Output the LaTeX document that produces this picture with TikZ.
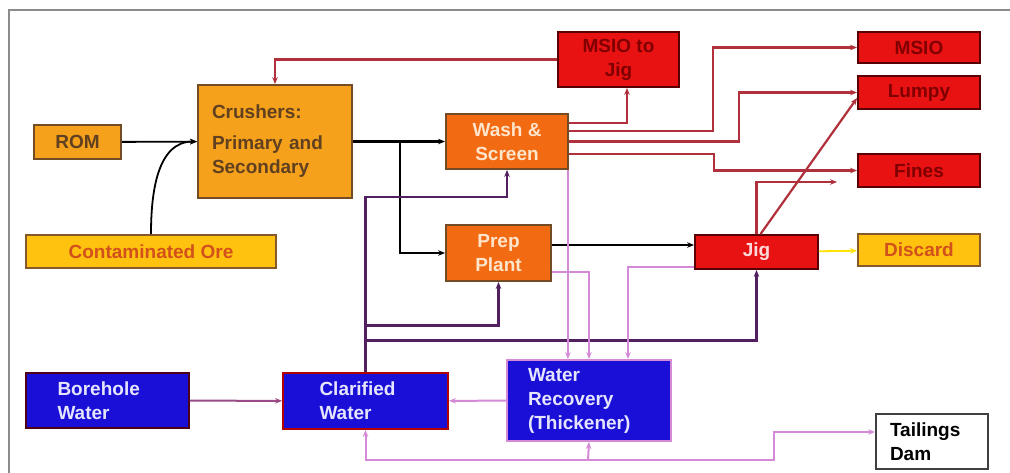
\documentclass[tikz,border=0pt]{standalone}
\usepackage{fontspec}
\setmainfont{Liberation Sans}
\usepackage{xcolor}
\usepackage{tikz}
\usetikzlibrary{arrows.meta}

\definecolor{orelight}{HTML}{F5A11C}
\definecolor{oredark}{HTML}{F26A12}
\definecolor{oreyellow}{HTML}{FFC20E}
\definecolor{oretext}{HTML}{D2501C}
\definecolor{prodred}{HTML}{E81212}
\definecolor{waterblue}{HTML}{1A0FD6}
\definecolor{redline}{HTML}{B0303C}
\definecolor{purpleline}{HTML}{52205E}
\definecolor{pinkline}{HTML}{D58AD8}
\definecolor{mauveline}{HTML}{9A4A86}
\definecolor{framegrey}{HTML}{8C8C8C}

\begin{document}
\begin{tikzpicture}[x=1pt, y=-1pt, >={Stealth[length=7pt,width=5.5pt]},
  box/.style={draw, line width=1.8pt, inner sep=0pt, font=\bfseries\fontsize{19}{24}\selectfont},
  orangebox/.style={box, fill=orelight, draw=brown!60!black, text=brown!50!black},
  washbox/.style={box, fill=oredark, draw=brown!60!black, text=orange!20!white, align=center},
  yellowbox/.style={box, fill=oreyellow, draw=brown!70!black, text=oretext},
  redbox/.style={box, fill=prodred, draw=red!35!black, text=red!50!black, align=center},
  bluebox/.style={box, fill=waterblue, draw=purple!40!black, text=white!90!blue, align=left},
  flow/.style={->, line width=1.8pt, black},
  redflow/.style={->, line width=2.2pt, redline},
  purpleflow/.style={->, line width=2.8pt, purpleline},
  pinkflow/.style={->, line width=2pt, pinkline}]

\useasboundingbox (0,0) rectangle (1010,473);
\draw[framegrey, line width=1.2pt] (9,480) -- (9,10) -- (1015,10);

% ore side
\node[orangebox, minimum width=87pt, minimum height=34pt] (rom) at (77.5,142) {ROM};
\node[orangebox, minimum width=154pt, minimum height=113pt, align=left, text width=126pt] (crushers) at (275,141.5)
    {Crushers:\\[7pt]Primary and\\Secondary};
\node[yellowbox, minimum width=250pt, minimum height=33pt] (ore) at (151,251.5) {Contaminated Ore};
\node[washbox, minimum width=122pt, minimum height=55pt] (wash) at (507,141.5) {Wash \&\\Screen};
\node[washbox, minimum width=105pt, minimum height=56pt] (prep) at (498.5,253) {Prep\\Plant};

% products
\node[redbox, minimum width=121pt, minimum height=55pt] (msiojig) at (618.5,59.5) {MSIO to\\Jig};
\node[redbox, minimum width=122pt, minimum height=31pt] (msio) at (919,47.5) {MSIO};
\node[redbox, minimum width=122pt, minimum height=33pt] (lumpy) at (919,92.5) {Lumpy};
\node[redbox, minimum width=122pt, minimum height=33pt] (fines) at (919,170.5) {Fines};
\node[redbox, minimum width=123pt, minimum height=34pt, text=red!15!white] (jig) at (756.5,252) {Jig};
\node[yellowbox, minimum width=122pt, minimum height=32pt] (discard) at (919,250) {Discard};

% water side
\node[bluebox, minimum width=163pt, minimum height=55pt, text width=100pt] (bore) at (107.5,400.5) {Borehole\\Water};
\node[bluebox, minimum width=165pt, minimum height=56pt, text width=92pt, draw=red!70!black] (clar) at (365.5,401) {Clarified\\Water};
\node[bluebox, minimum width=164pt, minimum height=81pt, text width=122pt, draw=pinkline] (wr) at (589,400.5)
    {Water\\Recovery\\(Thickener)};
\node[box, fill=white, draw=black!75, minimum width=112pt, minimum height=55pt, align=left, text width=84pt] (tail) at (932,441.5)
    {Tailings\\Dam};

\coordinate (split) at (400,141.5);
\coordinate (ret) at (588,460);

% ore flow
\draw[flow] (rom) -- (crushers);
\draw[flow] (ore.north) to[out=90, in=180] (crushers.west);
\draw[flow, line width=2.6pt] (crushers.east) -- (wash);
\draw[flow, line width=2.6pt] (split) |- (prep);
\draw[flow, line width=2.6pt] ([yshift=8pt]prep.east) -- ([yshift=8pt]prep.east -| jig.west);
\draw[->, line width=1.8pt, yellow!85!orange] (jig) -- (discard);

% product flow
\draw[redflow] (msiojig.west) -| (crushers.north);
\draw[redflow] ([yshift=18.5pt]wash.east) -| ([xshift=8.5pt]msiojig.south);
\draw[redflow] ([yshift=10.5pt]wash.east) -- ++(144,0) |- (msio);
\draw[redflow] (wash.east) -- ++(170,0) |- (lumpy);
\draw[redflow] ([yshift=-12.5pt]wash.east) -- ++(145,0) |- (fines);
\draw[redflow] (jig.north) |- ([xshift=-20pt,yshift=-11.5pt]fines.west);
\draw[redflow] ([xshift=4pt]jig.north) -- ([yshift=-5.5pt]lumpy.west);

% water supply
\draw[->, line width=2pt, mauveline] (bore) -- (clar);
\draw[purpleflow] (clar.north) -- ++(0,-175) -| (wash.south);
\draw[purpleflow] (clar.north) -- ++(0,-47) -| (prep.south);
\draw[purpleflow] (clar.north) -- ++(0,-32) -| (jig.south);

% water return
\draw[pinkflow] ([xshift=-1pt]wash.south east) -- ([xshift=-1pt]wash.south east |- wr.north);
\draw[pinkflow] ([yshift=-19pt]prep.east) -| (wr.north);
\draw[pinkflow] ([yshift=-15pt]jig.west) -| ([xshift=39pt]wr.north);
\draw[pinkflow] (wr) -- (clar);
\draw[pinkflow] (ret) -- (wr.south);
\draw[pinkflow] (ret) -| (clar.south);
\draw[pinkflow] (ret) -- ++(186,0) |- ([yshift=9.5pt]tail.west);

\end{tikzpicture}
\end{document}
